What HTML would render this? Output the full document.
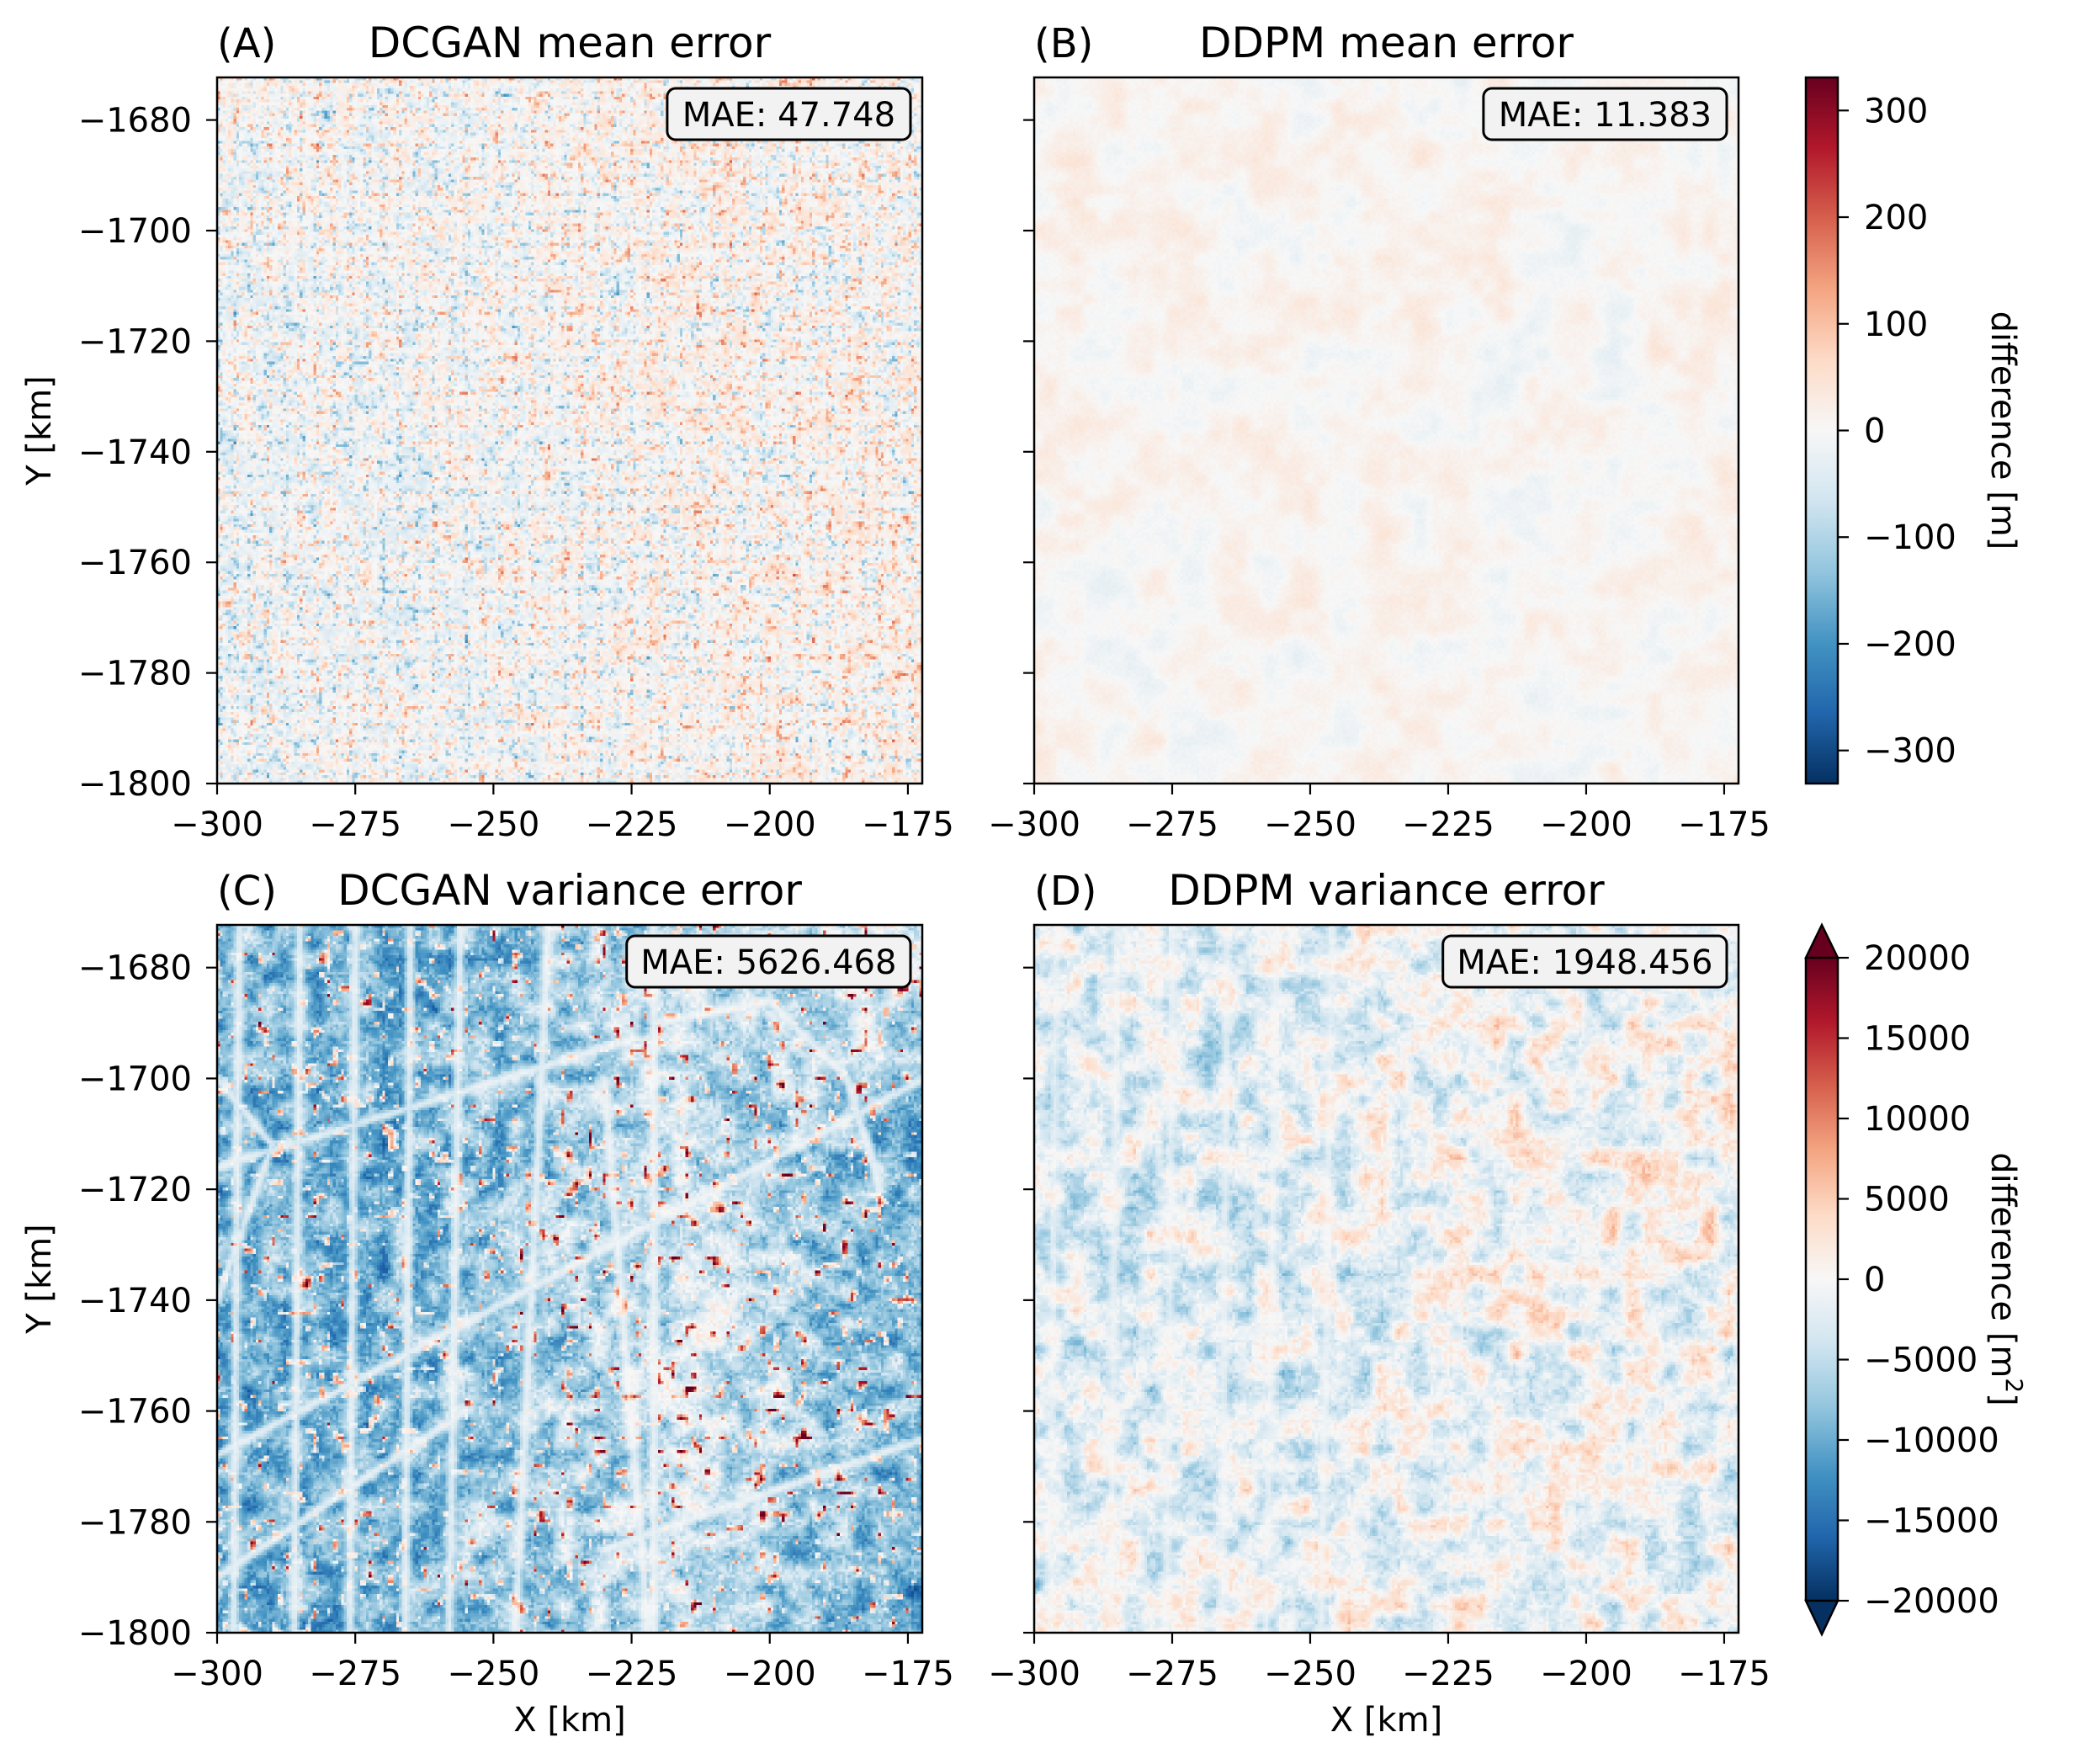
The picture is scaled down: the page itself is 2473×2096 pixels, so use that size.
<!DOCTYPE html>
<html><head><meta charset="utf-8">
<style>
html,body{margin:0;padding:0;background:#fff;}
#root{position:relative;width:2473px;height:2096px;overflow:hidden;background:#fff;font-family:"DejaVu Sans","Liberation Sans",sans-serif;}
canvas{position:absolute;image-rendering:pixelated;}
svg{position:absolute;left:0;top:0;}
</style></head>
<body>
<div id="root">
<canvas id="cA" width="256" height="256" style="left:258px;top:92px;width:838px;height:839px"></canvas>
<canvas id="cB" width="256" height="256" style="left:1229px;top:92px;width:837px;height:839px"></canvas>
<canvas id="cC" width="256" height="256" style="left:258px;top:1099px;width:838px;height:841px"></canvas>
<canvas id="cD" width="256" height="256" style="left:1229px;top:1099px;width:837px;height:841px"></canvas>
<svg id="ov" width="2473" height="2096" xmlns="http://www.w3.org/2000/svg">
<defs>
<linearGradient id="rdbu" x1="0" y1="1" x2="0" y2="0">
<stop offset="0" stop-color="#053061"/><stop offset="0.1" stop-color="#2166ac"/><stop offset="0.2" stop-color="#4393c3"/><stop offset="0.3" stop-color="#92c5de"/><stop offset="0.4" stop-color="#d1e5f0"/><stop offset="0.5" stop-color="#f7f7f7"/><stop offset="0.6" stop-color="#fddbc7"/><stop offset="0.7" stop-color="#f4a582"/><stop offset="0.8" stop-color="#d6604d"/><stop offset="0.9" stop-color="#b2182b"/><stop offset="1" stop-color="#67001f"/>
</linearGradient>
</defs>
</svg>
</div>
<script>
// ---- data ----
const xTicks = [-300,-275,-250,-225,-200,-175];
const yTicks = [-1680,-1700,-1720,-1740,-1760,-1780,-1800];
const xRange = [-300,-172.4];
const yRange = [-1800,-1672.3];
const meanTicks = [300,200,100,0,-100,-200,-300];
const meanRange = [-331,331];
const varTicks = [20000,15000,10000,5000,0,-5000,-10000,-15000,-20000];
const varRange = [-20000,20000];
const titles = ["DCGAN mean error","DDPM mean error","DCGAN variance error","DDPM variance error"];
const letters = ["(A)","(B)","(C)","(D)"];
const maeValues = ["47.748","11.383","5626.468","1948.456"];
// coarse 4x4 estimated mean field (normalized -1..1) per panel, rows top->bottom
const biasA = [[0.0,0.0,0.04,0.02],[-0.04,-0.02,0.04,0.02],[-0.06,-0.03,0.03,0.05],[-0.04,-0.03,0.02,0.06]];
const biasB = [[0.03,0.03,0.01,0.02],[0.03,0.04,0.01,0.03],[0.02,0.03,0.01,0.04],[0.02,0.02,0.01,0.02]];
const biasC = [[-0.45,-0.5,-0.2,-0.12],[-0.5,-0.45,-0.25,-0.5],[-0.55,-0.42,-0.15,-0.45],[-0.5,-0.42,-0.2,-0.6]];
const biasD = [[-0.08,-0.08,-0.02,-0.02],[-0.12,-0.12,-0.02,0.0],[-0.12,-0.12,-0.02,-0.08],[-0.08,-0.08,-0.02,-0.08]];
// road-like line segments (km coordinates)
const roadsC = [
 [-296,-1672,-297,-1800],[-285,-1672,-286,-1800],[-275,-1672,-276,-1800],[-265,-1672,-266,-1800],
 [-256,-1672,-258,-1800],[-240,-1672,-246,-1800],[-230,-1700,-222,-1800],[-221,-1672,-221,-1800],
 [-300,-1716,-225,-1693],[-300,-1768,-172,-1700],[-300,-1790,-255,-1760],[-230,-1785,-172,-1765],
 [-221,-1690,-200,-1686],[-200,-1686,-186,-1700],[-186,-1700,-180,-1720],[-300,-1700,-290,-1712],[-290,-1712,-300,-1740]
];
const roadsD = [
 [-296,-1672,-297,-1800],[-285,-1672,-286,-1800],[-275,-1672,-276,-1800],[-265,-1672,-266,-1800],
 [-256,-1672,-258,-1800],[-246,-1672,-248,-1800]
];

// ---- geometry ----
const panels = [
 {x0:258,x1:1096,y0:92,y1:931,c:'cA'},
 {x0:1229,x1:2066,y0:92,y1:931,c:'cB'},
 {x0:258,x1:1096,y0:1099,y1:1940,c:'cC'},
 {x0:1229,x1:2066,y0:1099,y1:1940,c:'cD'}
];
const stops = ["#053061","#2166ac","#4393c3","#92c5de","#d1e5f0","#f7f7f7","#fddbc7","#f4a582","#d6604d","#b2182b","#67001f"].map(h=>[parseInt(h.substr(1,2),16),parseInt(h.substr(3,2),16),parseInt(h.substr(5,2),16)]);
function cmap(v){ v=Math.max(-1,Math.min(1,v)); const t=(v+1)/2*10; const i=Math.min(9,Math.floor(t)); const f=t-i; const a=stops[i],b=stops[i+1]; return [a[0]+(b[0]-a[0])*f,a[1]+(b[1]-a[1])*f,a[2]+(b[2]-a[2])*f]; }
function hash(i,j,s){ let h=(i*374761393+j*668265263+s*2147483647)|0; h=(h^(h>>>13))*1274126177|0; h=h^(h>>>16); return ((h>>>0)%100000)/100000; }
function vnoise(x,y,sc,s){ const gx=x/sc,gy=y/sc; const i=Math.floor(gx),j=Math.floor(gy); const fx=gx-i,fy=gy-j; const u=fx*fx*(3-2*fx),w=fy*fy*(3-2*fy);
 const a=hash(i,j,s),b=hash(i+1,j,s),c=hash(i,j+1,s),d=hash(i+1,j+1,s); return (a+(b-a)*u+(c-a)*w+(a-b-c+d)*u*w)*2-1; }
function bias(g,u,v){ const x=u*3,y=v*3; const i=Math.min(2,Math.floor(x)),j=Math.min(2,Math.floor(y)); const fx=x-i,fy=y-j;
 return g[j][i]*(1-fx)*(1-fy)+g[j][i+1]*fx*(1-fy)+g[j+1][i]*(1-fx)*fy+g[j+1][i+1]*fx*fy; }
function segDist(px,py,s){ const [ax,ay,bx,by]=s; const dx=bx-ax,dy=by-ay; let t=((px-ax)*dx+(py-ay)*dy)/(dx*dx+dy*dy); t=Math.max(0,Math.min(1,t)); const qx=ax+t*dx-px,qy=ay+t*dy-py; return Math.sqrt(qx*qx+qy*qy); }
function mask(km,kmy,roads,w){ let m=0; for(const s of roads){ const d=segDist(km,kmy,s); m=Math.max(m,Math.exp(-(d*d)/(w*w))); } return m; }

function render(idx,fn){
 const cv=document.getElementById(panels[idx].c); const ctx=cv.getContext('2d'); const im=ctx.createImageData(256,256);
 for(let j=0;j<256;j++)for(let i=0;i<256;i++){
  const u=(i+0.5)/256,v=(j+0.5)/256; const km=xRange[0]+u*(xRange[1]-xRange[0]); const kmy=yRange[1]-v*(yRange[1]-yRange[0]);
  const c=cmap(fn(i,j,u,v,km,kmy)); const k=(j*256+i)*4; im.data[k]=c[0];im.data[k+1]=c[1];im.data[k+2]=c[2];im.data[k+3]=255; }
 ctx.putImageData(im,0,0);
}
render(0,(i,j,u,v)=>{ const f=vnoise(i,j,1.2,1); return bias(biasA,u,v)+0.32*f*Math.abs(f)*1.6+0.12*vnoise(i,j,5,2); });
render(1,(i,j,u,v)=>bias(biasB,u,v)+0.07*vnoise(i,j,14,3)+0.05*vnoise(i,j,5,4)+0.02*vnoise(i,j,1,5));
render(2,(i,j,u,v,km,kmy)=>{ const m=mask(km,kmy,roadsC,0.9); let val=bias(biasC,u,v)+0.25*vnoise(i,j,6,6)+0.16*vnoise(i,j,1.2,7);
 const cl=vnoise(i,j,2.5,8); if(cl>0.55) val+=(cl-0.55)*3.2; return val*(1-0.75*m); });
render(3,(i,j,u,v,km,kmy)=>{ const m=mask(km,kmy,roadsD,0.8); let val=bias(biasD,u,v)+0.26*vnoise(i,j,7,9)+0.12*vnoise(i,j,1.2,10)+0.1*vnoise(i,j,3,11); return val*(1-0.6*m); });

// ---- axes ----
const NS='http://www.w3.org/2000/svg'; const svg=document.getElementById('ov');
function el(tag,attrs,txt){ const e=document.createElementNS(NS,tag); for(const k in attrs)e.setAttribute(k,attrs[k]); if(txt!==undefined)e.textContent=txt; svg.appendChild(e); return e; }
const fmt=n=>String(n).replace('-','\u2212');
panels.forEach((p,pi)=>{
 const sx=v=>p.x0+(v-xRange[0])/(xRange[1]-xRange[0])*(p.x1-p.x0);
 const sy=v=>p.y1-(v-yRange[0])/(yRange[1]-yRange[0])*(p.y1-p.y0);
 const fr=el('rect',{x:p.x0,y:p.y0,width:p.x1-p.x0,height:p.y1-p.y0,fill:'none',stroke:'#000','stroke-width':2.5});
 
 
 xTicks.forEach(t=>{ const x=sx(t);
  const tk=el('line',{x1:x,y1:p.y1,x2:x,y2:p.y1+13,stroke:'#000','stroke-width':2.2});
  
  
  const tl=el('text',{x:x,y:p.y1+62,'font-size':40,'text-anchor':'middle',fill:'#000'},fmt(t));
  
  
 });
 yTicks.forEach(t=>{ const y=sy(t);
  const tk=el('line',{x1:p.x0-13,y1:y,x2:p.x0,y2:y,stroke:'#000','stroke-width':2.2});
  
  
  if(pi%2===0){ const tl=el('text',{x:p.x0-30,y:y+14,'font-size':40,'text-anchor':'end',fill:'#000'},fmt(t));
   
    }
 });
 const lt=el('text',{x:p.x0,y:p.y0-24,'font-size':48,fill:'#000'},letters[pi]);
 
 
 const tt=el('text',{x:(p.x0+p.x1)/2,y:p.y0-24,'font-size':50,'text-anchor':'middle',fill:'#000'},titles[pi]);
 
 
 const label='MAE: '+maeValues[pi]; const w=label.length*24.1+24;
 const bx=el('rect',{x:p.x1-14-w,y:p.y0+13,width:w,height:61,rx:10,fill:'#f2f2f2',stroke:'#000','stroke-width':3});
 
 
 const bt=el('text',{x:p.x1-14-w/2,y:p.y0+58,'font-size':40,'text-anchor':'middle',fill:'#000'},label);
 
 
 if(pi%2===0){ const cy=(p.y0+p.y1)/2; const yl=el('text',{x:47,y:cy,'font-size':40,'text-anchor':'middle',transform:`rotate(-90 47 ${cy})`,'dominant-baseline':'central',fill:'#000'},'Y [km]');
  
   }
 if(pi>=2){ const xl=el('text',{x:(p.x0+p.x1)/2,y:2057,'font-size':40,'text-anchor':'middle',fill:'#000'},'X [km]');
  
   }
});

// ---- colorbars ----
function colorbar(y0,y1,range,ticks,extend,labelNode,name){
 const cx0=2146,cx1=2184;
 const sc=v=>y1-(v-range[0])/(range[1]-range[0])*(y1-y0);
 const r=el('rect',{x:cx0,y:y0,width:cx1-cx0,height:y1-y0,fill:'url(#rdbu)'});
 
 
 if(extend){
  const tu=el('polygon',{points:`${cx0},${y0} ${cx1},${y0} ${(cx0+cx1)/2},${y0-39}`,fill:'#67001f',stroke:'#000','stroke-width':2.5});
  
  
  const td=el('polygon',{points:`${cx0},${y1} ${cx1},${y1} ${(cx0+cx1)/2},${y1+40}`,fill:'#053061',stroke:'#000','stroke-width':2.5});
  
  
  const fr=el('path',{d:`M${cx0},${y0} L${cx0},${y1} M${cx1},${y0} L${cx1},${y1}`,stroke:'#000','stroke-width':2.5,fill:'none'});
  
  
 } else {
  const fr=el('rect',{x:cx0,y:y0,width:cx1-cx0,height:y1-y0,fill:'none',stroke:'#000','stroke-width':2.5});
  
  
 }
 ticks.forEach(t=>{ const y=sc(t);
  const tk=el('line',{x1:cx1,y1:y,x2:cx1+13,y2:y,stroke:'#000','stroke-width':2.2});
  
  
  const tl=el('text',{x:2215,y:y+14,'font-size':40,fill:'#000'},fmt(t));
  
  
 });
 const cy=(y0+y1)/2;
 const lb=el('text',{x:2380,y:cy,'font-size':40,'text-anchor':'middle','dominant-baseline':'central',transform:`rotate(90 2380 ${cy})`,fill:'#000'});
 lb.innerHTML=labelNode;
 
 
}
colorbar(92,931,meanRange,meanTicks,false,'difference [m]','colorbar-mean');
colorbar(1138,1902,varRange,varTicks,true,'difference [m<tspan dy="-14" font-size="28">2</tspan><tspan dy="14">]</tspan>','colorbar-variance');
</script>
</body></html>
